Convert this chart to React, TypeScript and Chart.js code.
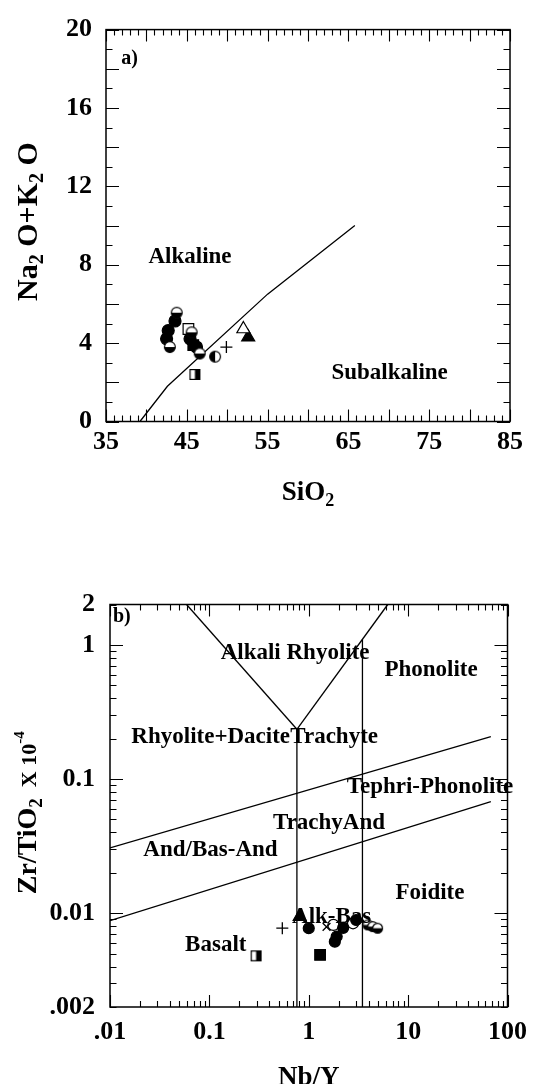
import { useEffect, useRef } from "react";
import { Chart, registerables } from "chart.js";

Chart.register(...registerables);

const SERIF = '"Liberation Serif", "Times New Roman", Times, serif';

/* ---------- panel a) total alkali vs silica ---------- */
const tasXTickValues = [35, 45, 55, 65, 75, 85];
const tasYTickValues = [0, 4, 8, 12, 16, 20];
const tasBoundary = [[39.2, 0], [42.6, 1.8], [55, 6.5], [65.8, 10]];
const tasHalfCircles = [[43.75, 5.55], [42.9, 3.8], [45.6, 4.55], [46.6, 3.47]];
const tasFilledCircles = [[43.54, 5.13], [42.5, 4.22], [42.7, 4.64], [45.4, 4.22], [46.2, 3.8]];
const tasOpenSquares = [[45.2, 4.72]];
const tasFilledSquares = [[45.8, 3.9]];
const tasSideCircles = [[48.5, 3.31]];
const tasPlus = [[49.9, 3.8]];
const tasOpenTriangles = [[52.0, 4.72]];
const tasFilledTriangles = [[52.6, 4.3]];
const tasHalfSquares = [[46.0, 2.4]];
const tasFieldNames = ["a)", "Alkaline", "Subalkaline"];
const tasFieldAnchors = [[36.9, 18.5], [45.4, 8.4], [70.1, 2.48]];

/* ---------- panel b) Zr/TiO2 vs Nb/Y ---------- */
const wfXTickValues = [0.01, 0.1, 1, 10, 100];
const wfXTickLabels = [".01", "0.1", "1", "10", "100"];
const wfYTickValues = [0.002, 0.01, 0.1, 1, 2];
const wfYTickLabels = [".002", "0.01", "0.1", "1", "2"];
const wfLeftBranch = [[0.0589, 2], [0.76, 0.235]];
const wfRightBranch = [[0.76, 0.235], [6.24, 2]];
const wfVerticalLow = [[0.76, 0.235], [0.76, 0.002]];
const wfVerticalHigh = [[3.47, 1.1], [3.47, 0.002]];
const wfUpperDivide = [[0.01, 0.0307], [68, 0.207]];
const wfLowerDivide = [[0.01, 0.00881], [68, 0.0679]];
const wfPlus = [[0.542, 0.00773]];
const wfFilledTriangles = [[0.81, 0.00944]];
const wfFilledCircles = [[1.0, 0.00773], [1.91, 0.0067], [1.83, 0.00614], [2.22, 0.00778], [3.0, 0.0089]];
const wfCrosses = [[1.51, 0.00791]];
const wfOpenCircles = [[1.77, 0.00818], [2.79, 0.00841]];
const wfHalfCircles = [[3.93, 0.00818], [4.4, 0.00795], [4.93, 0.00773]];
const wfHalfSquares = [[0.295, 0.00481]];
const wfFilledSquares = [[1.3, 0.00489]];
const wfFieldNames = [
  "b)", "Alkali Rhyolite", "Phonolite", "Rhyolite+Dacite", "Trachyte",
  "Tephri-Phonolite", "TrachyAnd", "And/Bas-And", "Foidite", "Alk-Bas", "Basalt",
];
const wfFieldAnchors = [
  [0.0107, 1.63], [0.729, 0.871], [17.0, 0.65], [0.0164, 0.205], [0.652, 0.205],
  [16.6, 0.0878], [1.6, 0.0473], [0.1026, 0.0296], [16.6, 0.01416], [1.7, 0.00937], [0.116, 0.0058],
];
const wfFieldAlign = ["left", "center", "center", "left", "left", "center", "center", "center", "center", "center", "center"];

const pts = (arr: number[][]) => arr.map(([x, y]) => ({ x, y }));

/* ---------- marker glyphs ---------- */
function glyph(kind: string, size: number): HTMLCanvasElement {
  const c = document.createElement("canvas");
  c.width = size + 2;
  c.height = size + 2;
  const g = c.getContext("2d")!;
  const m = (size + 2) / 2;
  const r = size / 2;
  g.lineWidth = 1.2;
  g.strokeStyle = "#000";
  if (kind === "halfTop" || kind === "halfLeft") {
    g.beginPath();
    g.arc(m, m, r - 0.6, 0, Math.PI * 2);
    g.fillStyle = "#fff";
    g.fill();
    g.beginPath();
    if (kind === "halfTop") g.arc(m, m, r - 0.6, 0, Math.PI);
    else g.arc(m, m, r - 0.6, Math.PI / 2, Math.PI * 1.5);
    g.closePath();
    g.fillStyle = "#000";
    g.fill();
    g.beginPath();
    g.arc(m, m, r - 0.6, 0, Math.PI * 2);
    g.stroke();
  } else if (kind === "halfSquare") {
    const s = size - 1.2;
    const x0 = m - s / 2;
    g.fillStyle = "#fff";
    g.fillRect(x0, x0, s, s);
    g.fillStyle = "#000";
    g.fillRect(m, x0, s / 2, s);
    g.strokeRect(x0, x0, s, s);
  }
  return c;
}

/* ---------- text helpers ---------- */
type Part = { t: string; size: number; dy?: number };

function drawRich(ctx: CanvasRenderingContext2D, parts: Part[], cx: number, cy: number, rotated: boolean) {
  ctx.save();
  ctx.translate(cx, cy);
  if (rotated) ctx.rotate(-Math.PI / 2);
  let total = 0;
  const widths = parts.map((p) => {
    ctx.font = `bold ${p.size}px ${SERIF}`;
    const w = ctx.measureText(p.t).width;
    total += w;
    return w;
  });
  let x = -total / 2;
  const base = parts[0].size * 0.33;
  ctx.fillStyle = "#000";
  ctx.textAlign = "left";
  ctx.textBaseline = "alphabetic";
  parts.forEach((p, i) => {
    ctx.font = `bold ${p.size}px ${SERIF}`;
    ctx.fillText(p.t, x, base + (p.dy || 0));
    x += widths[i];
  });
  ctx.restore();
}

type Decor = {
  xTicks: { v: number; major: boolean }[];
  yTicks: { v: number; major: boolean }[];
  names: string[];
  anchors: number[][];
  align: string[];
  fieldSize: number;
  xTitle: Part[];
  xTitleOffset: number;
  yTitle: Part[];
  yTitleX: number;
  yTitleShift: number;
};

function decorPlugin(d: Decor) {
  return {
    id: "decor",
    afterDraw(chart: any) {
      const ctx: CanvasRenderingContext2D = chart.ctx;
      const { left, right, top, bottom } = chart.chartArea;
      const xs = chart.scales.x;
      const ys = chart.scales.y;
      ctx.save();
      ctx.strokeStyle = "#000";
      ctx.lineWidth = 1.5;
      ctx.strokeRect(left, top, right - left, bottom - top);
      ctx.lineWidth = 1.1;
      ctx.beginPath();
      d.xTicks.forEach(({ v, major }) => {
        const px = Math.round(xs.getPixelForValue(v)) + 0.5;
        const len = major ? 12 : 6;
        ctx.moveTo(px, bottom);
        ctx.lineTo(px, bottom - len);
        ctx.moveTo(px, top);
        ctx.lineTo(px, top + len);
      });
      d.yTicks.forEach(({ v, major }) => {
        const py = Math.round(ys.getPixelForValue(v)) + 0.5;
        const len = major ? 13 : 6.5;
        ctx.moveTo(left, py);
        ctx.lineTo(left + len, py);
        ctx.moveTo(right, py);
        ctx.lineTo(right - len, py);
      });
      ctx.stroke();

      ctx.fillStyle = "#000";
      ctx.textBaseline = "middle";
      d.names.forEach((name, i) => {
        const [vx, vy] = d.anchors[i];
        const small = name.endsWith(")");
        ctx.font = `bold ${small ? 20 : d.fieldSize}px ${SERIF}`;
        ctx.textAlign = d.align[i] as CanvasTextAlign;
        ctx.fillText(name, xs.getPixelForValue(vx), ys.getPixelForValue(vy));
      });

      drawRich(ctx, d.xTitle, (left + right) / 2, bottom + d.xTitleOffset, false);
      drawRich(ctx, d.yTitle, d.yTitleX, (top + bottom) / 2 + d.yTitleShift, true);
      ctx.restore();
    },
  };
}

const tickFont = { family: SERIF, size: 26, weight: "bold" as const };

function lineSet(arr: number[][]) {
  return {
    data: pts(arr),
    showLine: true,
    pointRadius: 0,
    borderColor: "#000",
    borderWidth: 1.3,
    fill: false,
  };
}

function markSet(arr: number[][], style: any, radius: number, fillColor: string, border = 1.2) {
  return {
    data: pts(arr),
    showLine: false,
    pointStyle: style,
    pointRadius: radius,
    backgroundColor: fillColor,
    borderColor: "#000",
    borderWidth: border,
  };
}

function tasConfig(): any {
  const half = glyph("halfTop", 12);
  const side = glyph("halfLeft", 12);
  const hsq = glyph("halfSquare", 11);
  const xTicks = [];
  for (let v = 35; v <= 85; v++) xTicks.push({ v, major: v % 5 === 0 });
  const yTicks = [];
  for (let v = 0; v <= 20; v++) yTicks.push({ v, major: v % 2 === 0 });
  return {
    type: "scatter",
    data: {
      datasets: [
        markSet(tasHalfCircles, half, 6, "#000"),
        markSet(tasFilledCircles, "circle", 6, "#000"),
        markSet(tasOpenSquares, "rect", 7.5, "#fff"),
        markSet(tasFilledSquares, "rect", 7.5, "#000"),
        markSet(tasSideCircles, side, 6, "#000"),
        markSet(tasPlus, "cross", 6, "#000", 1.3),
        markSet(tasOpenTriangles, "triangle", 7.5, "#fff"),
        markSet(tasFilledTriangles, "triangle", 7.5, "#000"),
        markSet(tasHalfSquares, hsq, 6, "#000"),
        lineSet(tasBoundary),
      ],
    },
    options: {
      animation: false,
      responsive: false,
      devicePixelRatio: 1,
      events: [],
      layout: { padding: { left: 0, right: 27, top: 19.5, bottom: 0 } },
      plugins: { legend: { display: false }, tooltip: { enabled: false } },
      scales: {
        x: {
          type: "linear",
          min: 35,
          max: 85,
          afterBuildTicks: (s: any) => {
            s.ticks = tasXTickValues.map((value) => ({ value }));
          },
          afterFit: (s: any) => {
            s.height = 118.5;
          },
          grid: { display: false, drawTicks: false },
          border: { display: false },
          ticks: { padding: 5.5, font: tickFont, color: "#000", autoSkip: false, maxRotation: 0, callback: (v: any) => String(v) },
        },
        y: {
          type: "linear",
          min: 0,
          max: 20,
          afterBuildTicks: (s: any) => {
            s.ticks = tasYTickValues.map((value) => ({ value }));
          },
          afterFit: (s: any) => {
            s.width = 106;
          },
          grid: { display: false, drawTicks: false },
          border: { display: false },
          ticks: { padding: 14, font: tickFont, color: "#000", autoSkip: false, callback: (v: any) => String(v) },
        },
      },
    },
    plugins: [
      decorPlugin({
        xTicks,
        yTicks,
        names: tasFieldNames,
        anchors: tasFieldAnchors,
        align: ["left", "center", "center"],
        fieldSize: 23,
        xTitle: [
          { t: "SiO", size: 27 },
          { t: "2", size: 18, dy: 6 },
        ],
        xTitleOffset: 69.5,
        yTitle: [
          { t: "Na", size: 30 },
          { t: "2", size: 20, dy: 6 },
          { t: " O+K", size: 30 },
          { t: "2", size: 20, dy: 6 },
          { t: " O", size: 30 },
        ],
        yTitleX: 27,
        yTitleShift: -4,
      }),
    ],
  };
}

function wfConfig(): any {
  const half = glyph("halfTop", 11);
  const hsq = glyph("halfSquare", 11);
  const xTicks = [];
  for (let d = -2; d <= 1; d++) for (let m = 1; m <= 9; m++) xTicks.push({ v: m * Math.pow(10, d), major: m === 1 });
  xTicks.push({ v: 100, major: true });
  const yTicks = [];
  for (let d = -3; d <= 0; d++)
    for (let m = 1; m <= 9; m++) {
      const v = m * Math.pow(10, d);
      if (v >= 0.002 && v <= 2.0001) yTicks.push({ v, major: m === 1 });
    }
  return {
    type: "scatter",
    data: {
      datasets: [
        markSet(wfPlus, "cross", 6, "#000", 1.3),
        markSet(wfFilledTriangles, "triangle", 7.5, "#000"),
        markSet(wfFilledCircles, "circle", 5.5, "#000"),
        markSet(wfCrosses, "crossRot", 5.5, "#000", 1.3),
        markSet(wfOpenCircles, "circle", 5.5, "#fff"),
        markSet(wfHalfCircles, half, 5.5, "#000"),
        markSet(wfHalfSquares, hsq, 6, "#000"),
        markSet(wfFilledSquares, "rect", 7.5, "#000"),
        lineSet(wfLeftBranch),
        lineSet(wfRightBranch),
        lineSet(wfVerticalLow),
        lineSet(wfVerticalHigh),
        lineSet(wfUpperDivide),
        lineSet(wfLowerDivide),
      ],
    },
    options: {
      animation: false,
      responsive: false,
      devicePixelRatio: 1,
      events: [],
      layout: { padding: { left: 0, right: 23.5, top: 64.5, bottom: 0 } },
      plugins: { legend: { display: false }, tooltip: { enabled: false } },
      scales: {
        x: {
          type: "logarithmic",
          min: 0.01,
          max: 100,
          afterBuildTicks: (s: any) => {
            s.ticks = wfXTickValues.map((value) => ({ value }));
          },
          afterFit: (s: any) => {
            s.height = 77;
          },
          grid: { display: false, drawTicks: false },
          border: { display: false },
          ticks: { padding: 10, font: tickFont, color: "#000", autoSkip: false, maxRotation: 0, callback: (_v: any, i: number) => wfXTickLabels[i] },
        },
        y: {
          type: "logarithmic",
          min: 0.002,
          max: 2,
          afterBuildTicks: (s: any) => {
            s.ticks = wfYTickValues.map((value) => ({ value }));
          },
          afterFit: (s: any) => {
            s.width = 110;
          },
          grid: { display: false, drawTicks: false },
          border: { display: false },
          ticks: { padding: 15, font: tickFont, color: "#000", autoSkip: false, callback: (_v: any, i: number) => wfYTickLabels[i] },
        },
      },
    },
    plugins: [
      decorPlugin({
        xTicks,
        yTicks,
        names: wfFieldNames,
        anchors: wfFieldAnchors,
        align: wfFieldAlign,
        fieldSize: 23,
        xTitle: [{ t: "Nb/Y", size: 27 }],
        xTitleOffset: 68.8,
        yTitle: [
          { t: "Zr/TiO", size: 28 },
          { t: "2", size: 19, dy: 6 },
          { t: "  X 10", size: 22 },
          { t: "-4", size: 15, dy: -12 },
        ],
        yTitleX: 27,
        yTitleShift: 7,
      }),
    ],
  };
}

export default function App() {
  const aRef = useRef<HTMLCanvasElement>(null);
  const bRef = useRef<HTMLCanvasElement>(null);
  useEffect(() => {
    const a = new Chart(aRef.current!, tasConfig());
    const b = new Chart(bRef.current!, wfConfig());
    return () => {
      a.destroy();
      b.destroy();
    };
  }, []);
  return (
    <div style={{ position: "fixed", left: 0, top: 0, width: 537, height: 1084, background: "#fff" }}>
      <canvas ref={aRef} width={537} height={540} style={{ position: "absolute", left: 0, top: 0 }} />
      <canvas ref={bRef} width={537} height={544} style={{ position: "absolute", left: 0, top: 540 }} />
    </div>
  );
}
